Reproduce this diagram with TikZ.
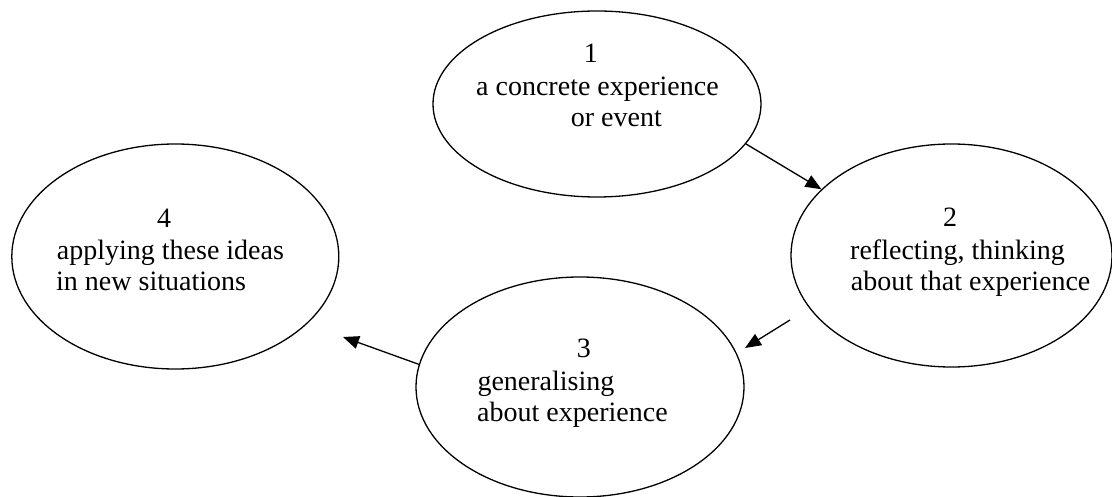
\documentclass[tikz,border=0pt]{standalone}
\usepackage{fontspec}
\setmainfont{Liberation Serif}
\usetikzlibrary{
	arrows.meta,
	shapes.geometric
}
\tikzset{
	Stage/.style={ellipse,draw,line width=1.3pt,inner sep=0pt},
	Stage-Text/.style={anchor=base west,inner sep=0pt,font=\fontsize{28}{32}\selectfont},
	Cycle-Arrow/.style={-{Triangle[length=16pt,width=13pt]},line width=1.3pt}
}
\begin{document}
\begin{tikzpicture}[x=1pt,y=-1pt]
	\useasboundingbox (0,0) rectangle (1112,497);
	% the four stages
	\node[Stage,minimum width=328pt,minimum height=186pt] (s1) at (597,104) {};
	\node[Stage,minimum width=321pt,minimum height=223pt] (s2) at (951.5,255.5) {};
	\node[Stage,minimum width=328pt,minimum height=220pt] (s3) at (580,387) {};
	\node[Stage,minimum width=327pt,minimum height=225pt] (s4) at (175.3,256.5) {};
	% stage 1
	\node[Stage-Text] (s1num) at (583.7,63) {1};
	\node[Stage-Text] (s1a) at (476,96) {a concrete experience};
	\node[Stage-Text] (s1b) at (570.7,127) {or event};
	% stage 2
	\node[Stage-Text] (s2num) at (943,226.7) {2};
	\node[Stage-Text] (s2a) at (850,259.3) {reflecting, thinking};
	\node[Stage-Text] (s2b) at (850.7,290.7) {about that experience};
	% stage 3
	\node[Stage-Text] (s3num) at (576.7,357.3) {3};
	\node[Stage-Text] (s3a) at (477.3,390) {generalising};
	\node[Stage-Text] (s3b) at (477,421.7) {about experience};
	% stage 4
	\node[Stage-Text] (s4num) at (157,227.3) {4};
	\node[Stage-Text] (s4a) at (56.7,259.3) {applying these ideas};
	\node[Stage-Text] (s4b) at (56,290.7) {in new situations};
	% arrows
	\coordinate (a2s) at (790,320);
	\coordinate (a2e) at (745,348);
	\coordinate (a3e) at (343,337);
	\draw[Cycle-Arrow] (s1.-15.5) -- (s2.153.5);
	\draw[Cycle-Arrow] (a2s) -- (a2e);
	\draw[Cycle-Arrow] (s3.172) -- (a3e);
\end{tikzpicture}
\end{document}
